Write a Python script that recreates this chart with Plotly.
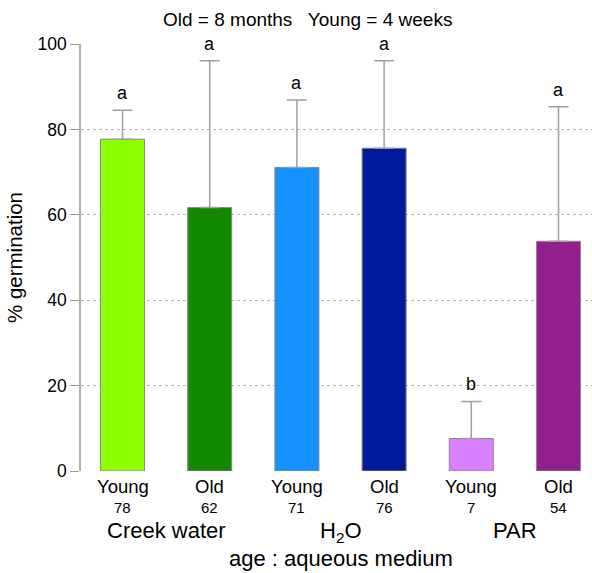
import plotly.graph_objects as go

ages = ["Young", "Old", "Young", "Old", "Young", "Old"]
groups = ["Creek water", "H<sub>2</sub>O", "PAR"]
means = [77.7, 61.7, 71.1, 75.6, 7.6, 53.8]
mean_labels = ["78", "62", "71", "76", "7", "54"]
upper = [84.5, 96.1, 86.9, 96.1, 16.3, 85.3]
letters = ["a", "a", "a", "a", "b", "a"]
colors = ["#8CFF00", "#128A00", "#1592FF", "#001A99", "#D880FF", "#931F8F"]

xs = list(range(len(means)))
err = [u - m for u, m in zip(upper, means)]

FONT = "Liberation Sans, Arial, sans-serif"

fig = go.Figure()
fig.add_trace(go.Bar(
    x=xs, y=means, width=0.505,
    marker=dict(color=colors, line=dict(color="#8a8a8a", width=1)),
    error_y=dict(type="data", symmetric=False, array=err, arrayminus=[0]*6,
                 color="#a0a0a0", thickness=1.5, width=10),
    showlegend=False, hoverinfo="skip",
))

ann = []
for x, u, l in zip(xs, upper, letters):
    ann.append(dict(x=x, y=u, xref="x", yref="y", text=l, showarrow=False,
                    yanchor="bottom", yshift=5, font=dict(size=18, color="black", family=FONT)))
for x, a, ml in zip(xs, ages, mean_labels):
    ann.append(dict(x=x, y=0, xref="x", yref="paper", text=a, showarrow=False,
                    yanchor="top", yshift=-3, font=dict(size=18.5, color="black", family=FONT)))
    ann.append(dict(x=x, y=0, xref="x", yref="paper", text=ml, showarrow=False,
                    yanchor="top", yshift=-26, font=dict(size=15, color="black", family=FONT)))
for i, g in enumerate(groups):
    ann.append(dict(x=2 * i + 0.5, y=0, xref="x", yref="paper", text=g, showarrow=False,
                    yanchor="top", yshift=-45, font=dict(size=22, color="black", family=FONT)))
ann.append(dict(x=2.5, y=0, xref="x", yref="paper", text="age : aqueous medium", showarrow=False,
                yanchor="top", yshift=-73, font=dict(size=22, color="black", family=FONT)))
ann.append(dict(x=2.12, y=1, xref="x", yref="paper", text="Old = 8 months   Young = 4 weeks",
                showarrow=False, yanchor="bottom", yshift=12,
                font=dict(size=19, color="black", family=FONT)))

fig.update_layout(
    width=592, height=573,
    margin=dict(l=81, r=0, t=44, b=102),
    paper_bgcolor="white", plot_bgcolor="white",
    font=dict(family=FONT, color="black"),
    annotations=ann,
    xaxis=dict(range=[-0.476, 5.384], showticklabels=False, showgrid=False,
               zeroline=False, showline=False, ticks=""),
    yaxis=dict(range=[0, 100], tickvals=[0, 20, 40, 60, 80, 100],
               showgrid=True, gridcolor="#b8b8b8", griddash="dot", gridwidth=1,
               zeroline=False, showline=True, linecolor="#b0b0b0", linewidth=1.5,
               ticks="outside", ticklen=9, tickcolor="#9a9a9a", tickwidth=1,
               tickfont=dict(size=17.5, color="black", family=FONT),
               title=dict(text="% germination", font=dict(size=20.5, color="black", family=FONT),
                          standoff=9)),
)

fig.write_html("out.html", config={"displayModeBar": False},
               post_script="document.body.style.margin='0';")
